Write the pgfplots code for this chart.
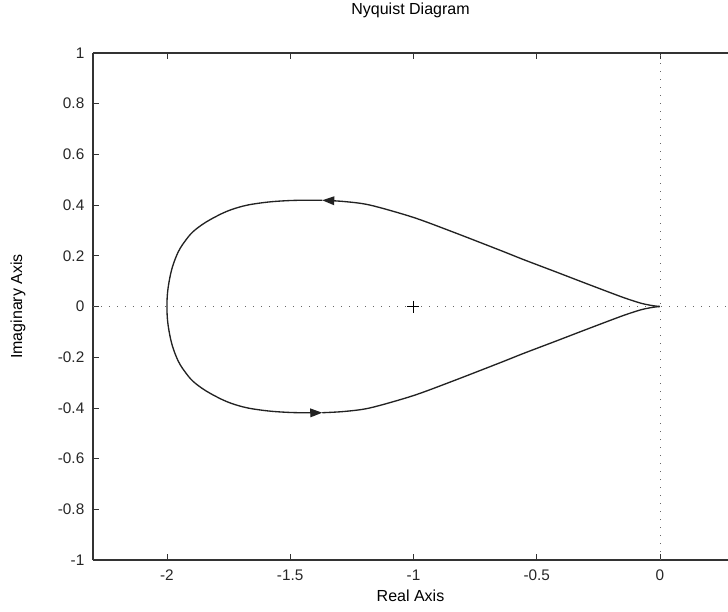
\documentclass[border=0pt]{standalone}
\usepackage{fontspec}
\setmainfont{Liberation Sans}
\usepackage{pgfplots}
\pgfplotsset{compat=1.18}
\usetikzlibrary{arrows.meta}
\definecolor{curve}{HTML}{222222}
\definecolor{axcol}{HTML}{333333}
\begin{document}
\begin{tikzpicture}
\begin{axis}[
  at={(0,0)}, anchor=south west,
  scale only axis, width=476.25pt, height=380.25pt,
  xmin=-2.3, xmax=0.276, ymin=-1, ymax=1,
  axis y line*=left,
  tick align=inside,
  major tick length=4.5pt,
  axis line style={axcol, line width=0.8pt},
  every tick/.style={axcol, line width=0.6pt},
  xtick={-2,-1.5,-1,-0.5,0},
  ytick={-1,-0.8,-0.6,-0.4,-0.2,0,0.2,0.4,0.6,0.8,1},
  yticklabels={-1,-0.8,-0.6,-0.4,-0.2,0,0.2,0.4,0.6,0.8,1},
  xticklabels={-2,-1.5,-1,-0.5,0},
  tick label style={font=\fontsize{11.5}{13}\selectfont, text=black!85},
  xticklabel style={yshift=-4pt},
  yticklabel style={xshift=-3pt},
  title={Nyquist Diagram},
  title style={at={(0.5,1)}, anchor=center, yshift=26.25pt, font=\fontsize{12}{14}\selectfont},
  xlabel={Real Axis},
  xlabel style={at={(axis description cs:0.5,-0.071)}, anchor=center, font=\fontsize{12}{14}\selectfont},
  ylabel={Imaginary Axis},
  ylabel style={at={(axis description cs:-0.118,0.5)}, anchor=center, font=\fontsize{12}{14}\selectfont},
]
% dotted axes through origin
\addplot[gray!80!black, line width=0.7pt, dash pattern=on 0.7pt off 5.3pt] coordinates {(-2.3,0) (0.276,0)};
\addplot[gray!80!black, line width=0.7pt, dash pattern=on 0.7pt off 5.3pt] coordinates {(0,-1) (0,1)};
% critical point
\addplot[only marks, mark=+, mark size=4.5pt, black, line width=0.7pt] coordinates {(-1,0)};
% upper half: from origin to upper arrow
\addplot[curve, line width=1pt, smooth, tension=0.5, -{Triangle[length=9pt,width=6.5pt]}] coordinates {
(0,0) (-0.02,0.002) (-0.045,0.006) (-0.081,0.014) (-0.150,0.036) (-0.284,0.085) (-0.418,0.135)
(-0.556,0.186) (-0.649,0.222) (-0.840,0.294) (-1.002,0.352) (-1.176,0.400) (-1.28,0.414) (-1.37,0.419)
};
% middle part: upper arrow around -2 to lower arrow
\addplot[curve, line width=1pt, smooth, tension=0.7, -{Triangle[length=9pt,width=6.5pt]}] coordinates {
(-1.37,0.419) (-1.50,0.418) (-1.623,0.408) (-1.717,0.389) (-1.799,0.356) (-1.877,0.309)
(-1.925,0.260) (-1.963,0.196) (-1.99,0.105) (-2.0,0)
(-1.99,-0.105) (-1.963,-0.196) (-1.925,-0.260) (-1.877,-0.309) (-1.799,-0.356) (-1.717,-0.389)
(-1.623,-0.408) (-1.50,-0.418) (-1.37,-0.419)
};
% lower half: lower arrow to origin
\addplot[curve, line width=1pt, smooth, tension=0.5] coordinates {
(-1.37,-0.419) (-1.28,-0.414) (-1.176,-0.400) (-1.002,-0.352) (-0.840,-0.294) (-0.649,-0.222)
(-0.556,-0.186) (-0.418,-0.135) (-0.284,-0.085) (-0.150,-0.036) (-0.081,-0.014) (-0.045,-0.006) (-0.02,-0.002) (0,0)
};
\end{axis}
\pgfresetboundingbox
\path (-69.75pt,-38.25pt) rectangle (476.25pt,420pt);
\end{tikzpicture}
\end{document}
